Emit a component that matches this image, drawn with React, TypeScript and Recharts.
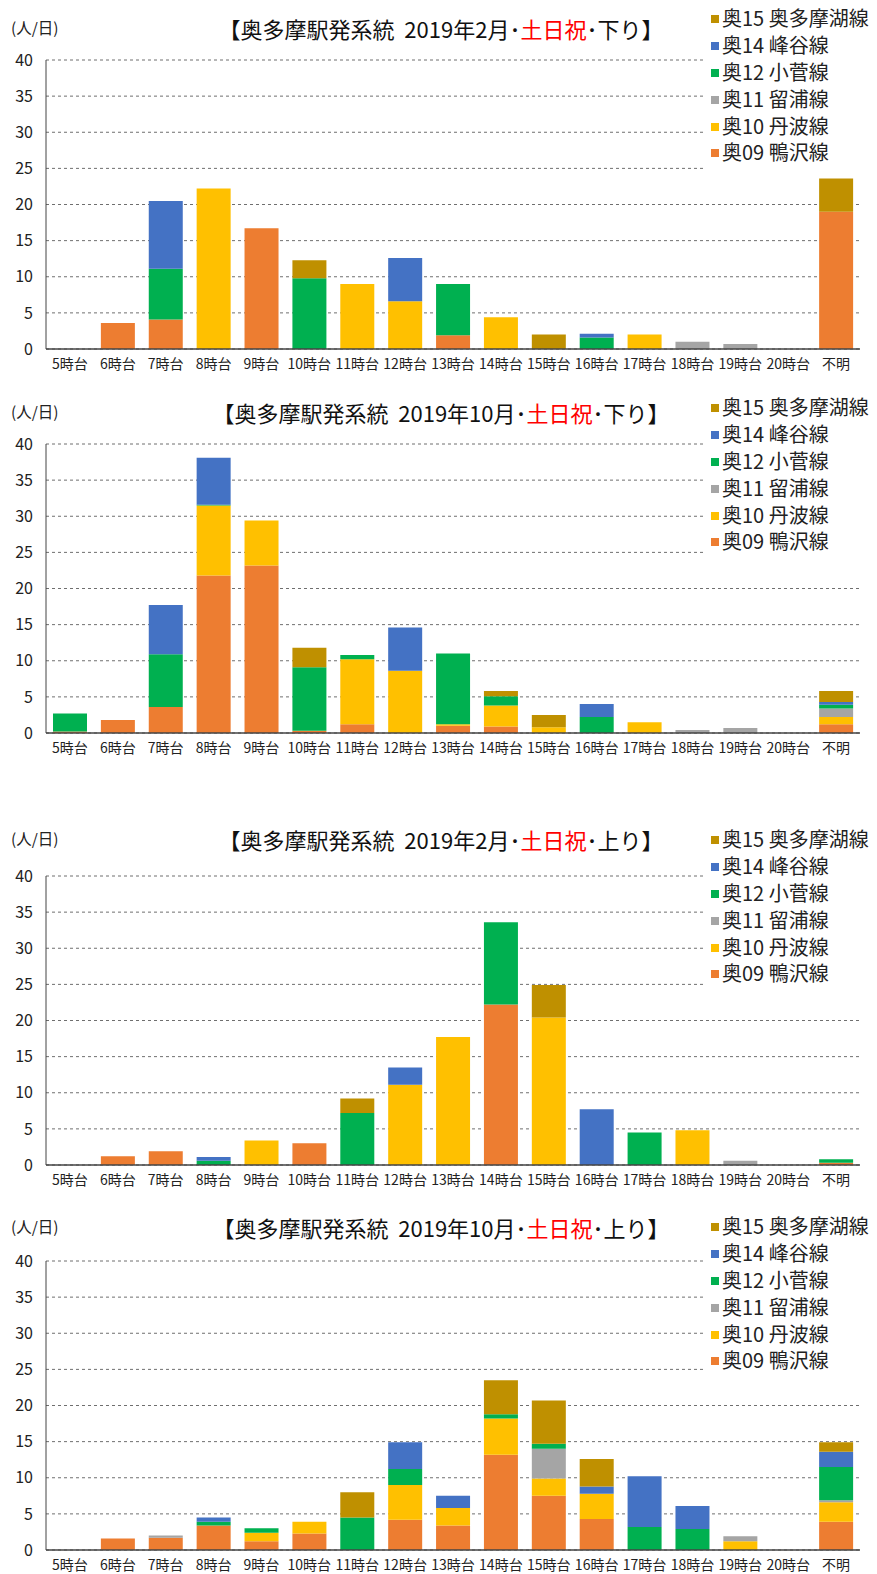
import React from "react";
import { Bar, BarChart, CartesianGrid, XAxis, YAxis } from "recharts";

const FONT = '"Noto Sans CJK JP", "Noto Sans", sans-serif';

const HOURS = [
  "5時台", "6時台", "7時台", "8時台", "9時台", "10時台", "11時台", "12時台",
  "13時台", "14時台", "15時台", "16時台", "17時台", "18時台", "19時台", "20時台", "不明",
];
const Y_TICKS = [0, 5, 10, 15, 20, 25, 30, 35, 40];

// stacking order, bottom to top
const SERIES = [
  { key: "r09", name: "奥09 鴨沢線", color: "#ED7D31" },
  { key: "r10", name: "奥10 丹波線", color: "#FFC000" },
  { key: "r11", name: "奥11 留浦線", color: "#A5A5A5" },
  { key: "r12", name: "奥12 小菅線", color: "#00B050" },
  { key: "r14", name: "奥14 峰谷線", color: "#4472C4" },
  { key: "r15", name: "奥15 奥多摩湖線", color: "#BF9000" },
];

// 2019年2月・土日祝・下り
const FEB_DOWN_09 = [0, 3.6, 4.1, 0, 16.7, 0, 0, 0, 1.9, 0, 0, 0, 0, 0, 0, 0, 19.0];
const FEB_DOWN_10 = [0, 0, 0, 22.2, 0, 0, 9.0, 6.6, 0, 4.4, 0, 0, 2.0, 0, 0, 0, 0];
const FEB_DOWN_11 = [0, 0, 0, 0, 0, 0, 0, 0, 0, 0, 0, 0, 0, 1.0, 0.7, 0, 0];
const FEB_DOWN_12 = [0, 0, 7.0, 0, 0, 9.8, 0, 0, 7.1, 0, 0, 1.6, 0, 0, 0, 0, 0];
const FEB_DOWN_14 = [0, 0, 9.4, 0, 0, 0, 0, 6.0, 0, 0, 0, 0.5, 0, 0, 0, 0, 0];
const FEB_DOWN_15 = [0, 0, 0, 0, 0, 2.5, 0, 0, 0, 0, 2.0, 0, 0, 0, 0, 0, 4.6];

// 2019年10月・土日祝・下り
const OCT_DOWN_09 = [0.2, 1.8, 3.6, 21.8, 23.2, 0.3, 1.2, 0, 1.0, 0.9, 0, 0, 0, 0, 0, 0, 1.2];
const OCT_DOWN_10 = [0, 0, 0, 9.7, 6.2, 0, 9.0, 8.6, 0.2, 2.9, 0.8, 0, 1.5, 0, 0, 0, 1.0];
const OCT_DOWN_11 = [0, 0, 0, 0, 0, 0, 0, 0, 0, 0, 0, 0, 0, 0.4, 0.7, 0, 1.2];
const OCT_DOWN_12 = [2.5, 0, 7.3, 0.1, 0, 8.8, 0.6, 0, 9.8, 1.3, 0, 2.2, 0, 0, 0, 0, 0.5];
const OCT_DOWN_14 = [0, 0, 6.8, 6.5, 0, 0, 0, 6.0, 0, 0, 0, 1.8, 0, 0, 0, 0, 0.4];
const OCT_DOWN_15 = [0, 0, 0, 0, 0, 2.7, 0, 0, 0, 0.7, 1.7, 0, 0, 0, 0, 0, 1.5];

// 2019年2月・土日祝・上り
const FEB_UP_09 = [0, 1.2, 1.9, 0, 0, 3.0, 0, 0, 0, 22.2, 0, 0, 0, 0, 0, 0, 0.3];
const FEB_UP_10 = [0, 0, 0, 0, 3.4, 0, 0, 11.1, 17.7, 0, 20.4, 0, 0, 4.8, 0, 0, 0];
const FEB_UP_11 = [0, 0, 0, 0, 0, 0, 0, 0, 0, 0, 0, 0, 0, 0, 0.6, 0, 0];
const FEB_UP_12 = [0, 0, 0, 0.6, 0, 0, 7.2, 0, 0, 11.4, 0, 0, 4.5, 0, 0, 0, 0.5];
const FEB_UP_14 = [0, 0, 0, 0.5, 0, 0, 0, 2.4, 0, 0, 0, 7.7, 0, 0, 0, 0, 0];
const FEB_UP_15 = [0, 0, 0, 0, 0, 0, 2.0, 0, 0, 0, 4.5, 0, 0, 0, 0, 0, 0];

// 2019年10月・土日祝・上り
const OCT_UP_09 = [0, 1.6, 1.7, 3.4, 1.2, 2.3, 0, 4.2, 3.4, 13.2, 7.5, 4.3, 0, 0, 0, 0, 3.9];
const OCT_UP_10 = [0, 0, 0, 0, 1.2, 1.6, 0, 4.8, 2.4, 5.0, 2.4, 3.5, 0, 0, 1.2, 0, 2.7];
const OCT_UP_11 = [0, 0, 0.3, 0, 0, 0, 0, 0, 0, 0, 4.1, 0, 0, 0, 0.7, 0, 0.3];
const OCT_UP_12 = [0, 0, 0, 0.5, 0.6, 0, 4.5, 2.2, 0, 0.6, 0.7, 0, 3.2, 2.9, 0, 0, 4.6];
const OCT_UP_14 = [0, 0, 0, 0.6, 0, 0, 0, 3.7, 1.7, 0, 0, 1.0, 7.0, 3.2, 0, 0, 2.1];
const OCT_UP_15 = [0, 0, 0, 0, 0, 0, 3.5, 0, 0, 4.7, 6.0, 3.8, 0, 0, 0, 0, 1.3];

function buildRows(cols: number[][]) {
  return HOURS.map((h, i) => {
    const row: Record<string, string | number> = { hour: h };
    SERIES.forEach((s, j) => {
      row[s.key] = cols[j][i];
    });
    return row;
  });
}

const CHARTS = [
  {
    month: "2019年2月",
    dir: "下り",
    top: 0,
    titleY: 29,
    legendY: 18,
    rows: buildRows([FEB_DOWN_09, FEB_DOWN_10, FEB_DOWN_11, FEB_DOWN_12, FEB_DOWN_14, FEB_DOWN_15]),
  },
  {
    month: "2019年10月",
    dir: "下り",
    top: 384,
    titleY: 29,
    legendY: 23,
    rows: buildRows([OCT_DOWN_09, OCT_DOWN_10, OCT_DOWN_11, OCT_DOWN_12, OCT_DOWN_14, OCT_DOWN_15]),
  },
  {
    month: "2019年2月",
    dir: "上り",
    top: 816,
    titleY: 24,
    legendY: 23,
    rows: buildRows([FEB_UP_09, FEB_UP_10, FEB_UP_11, FEB_UP_12, FEB_UP_14, FEB_UP_15]),
  },
  {
    month: "2019年10月",
    dir: "上り",
    top: 1201,
    titleY: 27,
    legendY: 25,
    rows: buildRows([OCT_UP_09, OCT_UP_10, OCT_UP_11, OCT_UP_12, OCT_UP_14, OCT_UP_15]),
  },
];

const CHART_W = 877;
const CHART_H = 382;
const ROW_H = 26.8;

function StackChart({ c }: { c: (typeof CHARTS)[number] }) {
  const legendItems = [...SERIES].reverse();
  return (
    <div style={{ position: "absolute", left: 0, top: c.top, width: CHART_W, height: CHART_H }}>
      <BarChart
        width={CHART_W}
        height={CHART_H}
        data={c.rows}
        margin={{ top: 60, right: 17, left: 0, bottom: 1 }}
        barSize={34}
      >
        <CartesianGrid vertical={false} stroke="#6f6f6f" strokeDasharray="3 3" />
        <XAxis
          dataKey="hour"
          interval={0}
          tickLine={false}
          axisLine={{ stroke: "#444", strokeWidth: 1.5 }}
          tick={{ fontSize: 14, fill: "#222", fontFamily: FONT }}
          tickMargin={4}
          height={32}
        />
        <YAxis
          domain={[0, 40]}
          ticks={Y_TICKS}
          interval={0}
          tickLine={false}
          axisLine={{ stroke: "#444" }}
          tick={{ fontSize: 16, fill: "#222", fontFamily: FONT }}
          tickMargin={7}
          width={46}
        />
        {SERIES.map((s) => (
          <Bar
            key={s.key}
            dataKey={s.key}
            name={s.name}
            stackId="a"
            fill={s.color}
            isAnimationActive={false}
          />
        ))}
      </BarChart>

      <div
        style={{
          position: "absolute",
          left: 11,
          top: c.titleY - 13,
          fontSize: 15.5,
          lineHeight: "22px",
          fontFamily: FONT,
          color: "#222",
        }}
      >
        (人/日)
      </div>

      <div
        style={{
          position: "absolute",
          left: 0,
          width: 882,
          top: c.titleY - 16,
          textAlign: "center",
          fontSize: 22,
          lineHeight: "30px",
          fontFamily: FONT,
          color: "#111",
          whiteSpace: "pre",
        }}
      >
        {`【奥多摩駅発系統  ${c.month}･`}
        <span style={{ color: "#FF0000" }}>土日祝</span>
        {`･${c.dir}】`}
      </div>

      <div
        style={{
          position: "absolute",
          left: 703,
          top: c.legendY - 16,
          width: 174,
          height: ROW_H * 6 + 6,
          background: "#fff",
          fontFamily: FONT,
        }}
      >
        {legendItems.map((s, i) => (
          <div
            key={s.key}
            style={{
              position: "absolute",
              left: 8,
              top: 3 + i * ROW_H,
              height: ROW_H,
              display: "flex",
              alignItems: "center",
              whiteSpace: "nowrap",
            }}
          >
            <span
              style={{
                display: "inline-block",
                width: 8,
                height: 8,
                background: s.color,
                marginRight: 3,
                marginTop: 2,
              }}
            />
            <span style={{ fontSize: 20, color: "#222", lineHeight: "24px" }}>{s.name}</span>
          </div>
        ))}
      </div>
    </div>
  );
}

export default function App() {
  return (
    <div
      style={{
        position: "absolute",
        left: 0,
        top: 0,
        width: 877,
        height: 1574,
        background: "#fff",
        overflow: "hidden",
      }}
    >
      {CHARTS.map((c, i) => (
        <StackChart key={i} c={c} />
      ))}
    </div>
  );
}
